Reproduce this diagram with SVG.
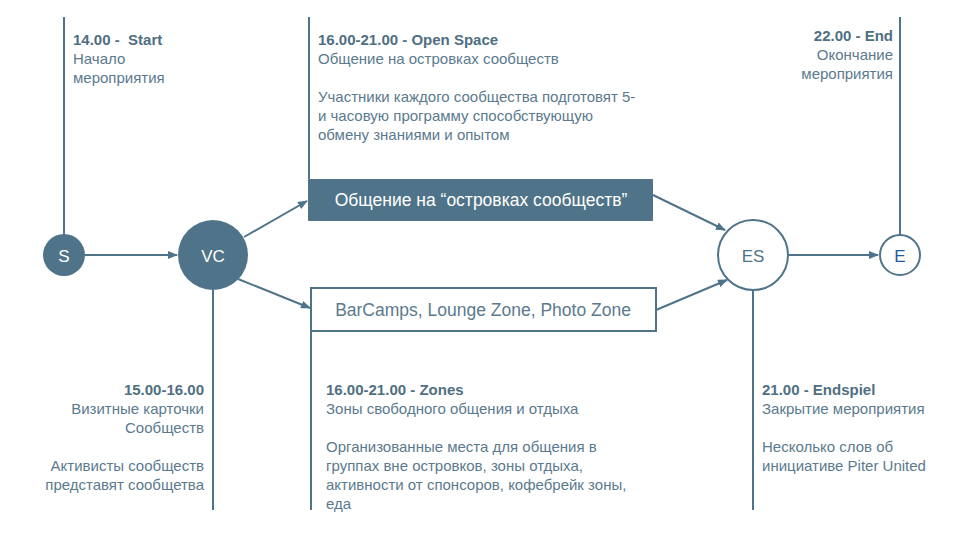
<svg xmlns="http://www.w3.org/2000/svg" width="966" height="533" viewBox="0 0 966 533">
<defs>
<marker id="arr" markerWidth="10" markerHeight="8" refX="9" refY="4" orient="auto" markerUnits="userSpaceOnUse">
<path d="M0,0 L10,4 L0,8 Z" fill="#4f7489"/>
</marker>
<style>
.ln{stroke:#4f7489;stroke-width:2;fill:none}
.cn{stroke:#4f7489;stroke-width:2;fill:none;marker-end:url(#arr)}
.t{font-family:"Liberation Sans",Arial,sans-serif;font-size:15px;fill:#5b7a8e;white-space:pre}
.b{font-weight:bold;fill:#4f6f82}
.r{text-anchor:end}
.bx{font-family:"Liberation Sans",Arial,sans-serif;font-size:17.5px;text-anchor:middle;dominant-baseline:central}
.c{font-family:"Liberation Sans",Arial,sans-serif;font-size:17px;text-anchor:middle;dominant-baseline:central}
</style>
</defs>
<rect width="966" height="533" fill="#fff"/>
<g id="timelines">
<line class="ln" x1="64" y1="17" x2="64" y2="234"/>
<line class="ln" x1="309" y1="17" x2="309" y2="179"/>
<line class="ln" x1="900" y1="17" x2="900" y2="235"/>
<line class="ln" x1="213" y1="290" x2="213" y2="510"/>
<line class="ln" x1="311" y1="331" x2="311" y2="510"/>
<line class="ln" x1="753" y1="290" x2="753" y2="510"/>
</g>
<g id="connectors">
<line class="cn" x1="85" y1="255" x2="177" y2="255"/>
<line class="cn" x1="244" y1="237" x2="307" y2="201"/>
<line class="cn" x1="238" y1="279" x2="310" y2="308"/>
<line class="cn" x1="653" y1="195" x2="725" y2="230"/>
<line class="cn" x1="656" y1="310" x2="727" y2="280"/>
<line class="cn" x1="788" y1="255" x2="878" y2="255"/>
</g>
<g id="S">
<circle cx="64" cy="255" r="21" fill="#4f7489"/>
<text class="c" x="64" y="256" fill="#fff">S</text>
</g>
<g id="VC">
<circle cx="213" cy="255" r="35" fill="#4f7489"/>
<text class="c" x="213" y="256" fill="#fff">VC</text>
</g>
<g id="open-space">
<rect x="308" y="179" width="345" height="42" rx="1" fill="#4f7489"/>
<text class="bx" x="481" y="200" fill="#fff">Общение на “островках сообществ”</text>
</g>
<g id="zones">
<rect x="311" y="288" width="345" height="43" fill="#fff" stroke="#4f7489" stroke-width="2"/>
<text class="bx" x="483" y="310" fill="#5b7a8e">BarCamps, Lounge Zone, Photo Zone</text>
</g>
<g id="ES">
<circle cx="753" cy="255" r="35" fill="#fff" stroke="#4f7489" stroke-width="2"/>
<text class="c" x="753" y="256" fill="#4f7489">ES</text>
</g>
<g id="E">
<circle cx="900" cy="255" r="20" fill="#fff" stroke="#4f7489" stroke-width="2"/>
<text class="c" x="900" y="256" fill="#1f5b9c">E</text>
</g>
<g id="label-start">
<text class="t b" x="73" y="45">14.00 -  Start</text>
<text class="t" x="73" y="64">Начало</text>
<text class="t" x="73" y="83">мероприятия</text>
</g>
<g id="label-openspace">
<text class="t b" x="318" y="45">16.00-21.00 - Open Space</text>
<text class="t" x="318" y="64">Общение на островках сообществ</text>
<text class="t" x="318" y="102">Участники каждого сообщества подготовят 5-</text>
<text class="t" x="318" y="121">и часовую программу способствующую</text>
<text class="t" x="318" y="140">обмену знаниями и опытом</text>
</g>
<g id="label-end">
<text class="t b r" x="893" y="41">22.00 - End</text>
<text class="t r" x="893" y="60">Окончание</text>
<text class="t r" x="893" y="79">мероприятия</text>
</g>
<g id="label-vc">
<text class="t b r" x="204" y="395">15.00-16.00</text>
<text class="t r" x="204" y="414">Визитные карточки</text>
<text class="t r" x="204" y="433">Сообществ</text>
<text class="t r" x="204" y="471">Активисты сообществ</text>
<text class="t r" x="204" y="490">представят сообщетва</text>
</g>
<g id="label-zones">
<text class="t b" x="326" y="395">16.00-21.00 - Zones</text>
<text class="t" x="326" y="414">Зоны свободного общения и отдыха</text>
<text class="t" x="326" y="452">Организованные места для общения в</text>
<text class="t" x="326" y="471">группах вне островков, зоны отдыха,</text>
<text class="t" x="326" y="490">активности от спонсоров, кофебрейк зоны,</text>
<text class="t" x="326" y="509">еда</text>
</g>
<g id="label-endspiel">
<text class="t b" x="762" y="395">21.00 - Endspiel</text>
<text class="t" x="762" y="414">Закрытие мероприятия</text>
<text class="t" x="762" y="452">Несколько слов об</text>
<text class="t" x="762" y="471">инициативе Piter United</text>
</g>
</svg>
